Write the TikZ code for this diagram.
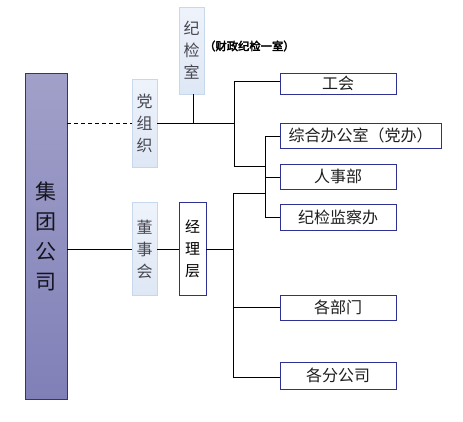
\documentclass[tikz,border=0pt]{standalone}
\usepackage{fontspec}
\setmainfont{Noto Sans CJK SC}
\newfontfamily\cjkb[FakeBold=3]{Noto Sans CJK SC}
\begin{document}
\begin{tikzpicture}[x=1pt,y=-1pt,
  navy/.style={draw={rgb,255:red,46;green,49;blue,146}, line width=0.9pt},
  lightbox/.style={draw={rgb,255:red,200;green,216;blue,236}, line width=0.8pt,
    top color={rgb,255:red,238;green,243;blue,251}, bottom color={rgb,255:red,222;green,231;blue,245},
    inner sep=0pt, text={rgb,255:red,70;green,70;blue,80}, font=\fontsize{16}{22}\selectfont, align=center},
  deptbox/.style={navy, fill=white, inner sep=0pt, font=\fontsize{16}{18}\selectfont, text={rgb,255:red,30;green,30;blue,30}},
  conn/.style={line width=0.8pt, black}
]
\useasboundingbox (0,0) rectangle (463,421);
% main company
\node[navy, top color={rgb,255:red,161;green,160;blue,201}, bottom color={rgb,255:red,128;green,128;blue,184},
  minimum width=42pt, minimum height=326pt, inner sep=0pt, align=center,
  font=\fontsize{21}{30}\selectfont, text={rgb,255:red,20;green,20;blue,30}] (jt) at (46,236) {集\\团\\公\\司};
% party org etc.
\node[lightbox, minimum width=25pt, minimum height=88pt] (dzz) at (144.5,123) {党\\组\\织};
\node[lightbox, minimum width=25pt, minimum height=87pt] (jjs) at (191.5,50.5) {纪\\检\\室};
\node[font=\cjkb\fontsize{11.3}{12}\selectfont, anchor=west, inner sep=0pt] (cz) at (204,46) {（财政纪检一室）};
\node[lightbox, minimum width=25pt, minimum height=93pt] (dsh) at (144.5,249) {董\\事\\会};
\node[navy, fill=white, minimum width=27pt, minimum height=93pt, inner sep=0pt, align=center,
  font=\fontsize{15}{22}\selectfont] (jlc) at (192.5,249) {经\\理\\层};
% departments
\node[deptbox, minimum width=116pt, minimum height=21pt] (gh) at (338,83.5) {工会};
\node[deptbox, minimum width=161pt, minimum height=25pt] (zh) at (360.5,135.5) {综合办公室（党办）};
\node[deptbox, minimum width=116pt, minimum height=25pt] (rs) at (338,176.5) {人事部};
\node[deptbox, minimum width=116pt, minimum height=26pt] (jj) at (338,217) {纪检监察办};
\node[deptbox, minimum width=116pt, minimum height=25pt] (gb) at (338,307.5) {各部门};
\node[deptbox, minimum width=116pt, minimum height=27pt] (gf) at (338,375.5) {各分公司};
% coordinates
\coordinate (p1) at (234,123);
\coordinate (p1t) at (234,81);
\coordinate (p1b) at (234,166);
\coordinate (q1) at (265,166);
\coordinate (qt) at (265,136);
\coordinate (qm) at (265,177);
\coordinate (qb) at (265,217);
\coordinate (m1) at (233,249);
\coordinate (mt) at (233,193);
\coordinate (qx) at (265,193);
\coordinate (mm) at (233,307);
\coordinate (mb) at (233,377);
\coordinate (jjsj) at (193,123);
% connectors
\draw[conn, dash pattern=on 4pt off 3pt] (jt.east |- dzz.west) -- (dzz.west);
\draw[conn] (dzz.east) -- (p1);
\draw[conn] (jjs.south -| jjsj) -- (jjsj);
\draw[conn] (gh.west |- p1t) -- (p1t) -- (p1b) -- (q1);
\draw[conn] (zh.west |- qt) -- (qt) -- (qb) -- (jj.west |- qb);
\draw[conn] (qm) -- (rs.west |- qm);
\draw[conn] (jt.east |- dsh.west) -- (dsh.west);
\draw[conn] (dsh.east) -- (jlc.west);
\draw[conn] (jlc.east) -- (m1);
\draw[conn] (qx) -- (mt) -- (mb) -- (gf.west |- mb);
\draw[conn] (mm) -- (gb.west |- mm);
\end{tikzpicture}
\end{document}
